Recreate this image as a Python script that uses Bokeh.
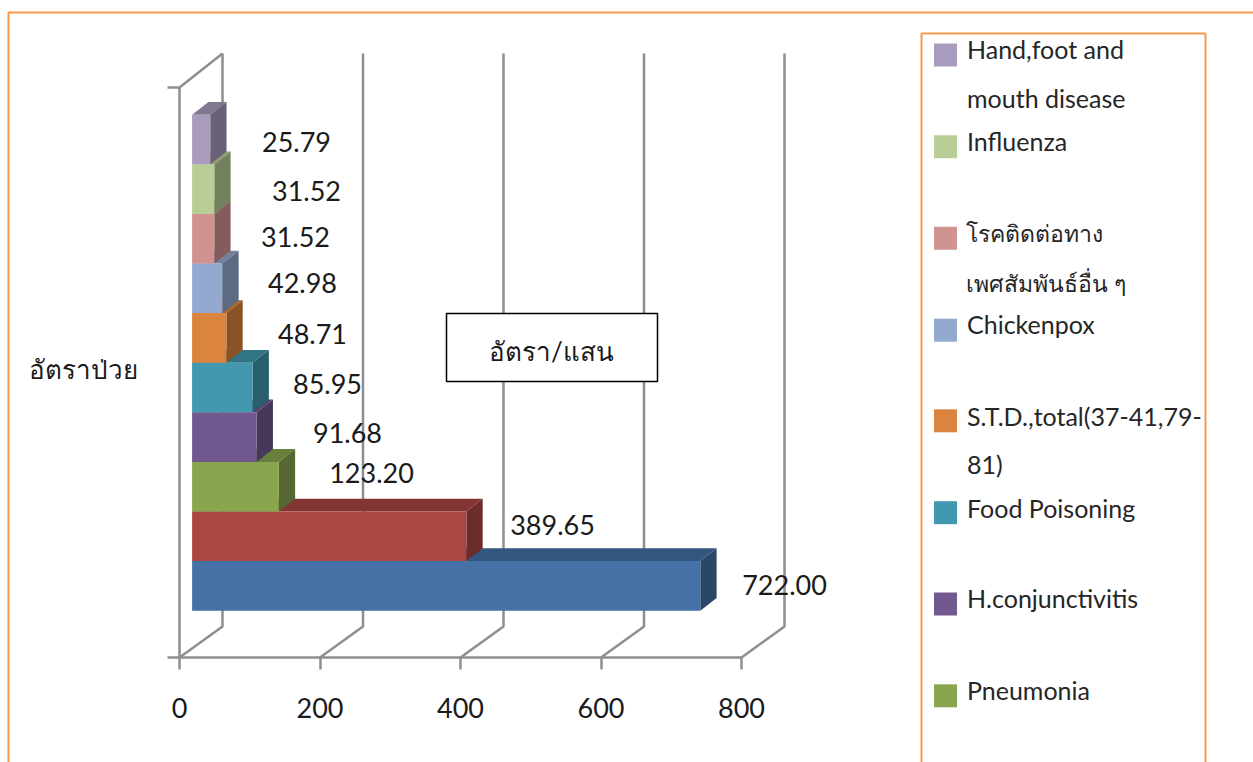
from bokeh.plotting import figure
from bokeh.models import Range1d, LinearAxis, FixedTicker
from bokeh.core.properties import value
from bokeh.embed import file_html
from bokeh.resources import INLINE

# ---- data ----
values = [722.00, 389.65, 123.20, 91.68, 85.95, 48.71, 42.98, 31.52, 31.52, 25.79]
value_labels = ["722.00", "389.65", "123.20", "91.68", "85.95", "48.71", "42.98", "31.52", "31.52", "25.79"]
bar_colors = ["#4471A6", "#AA4643", "#89A54E", "#71588F", "#4198AF",
              "#DB843D", "#93A9CF", "#D19392", "#B9CD96", "#A99BBD"]
x_ticks = [0, 200, 400, 600, 800]
category = "อัตราป่วย"
box_text = "อัตรา/แสน"
legend_colors = ["#A99BBD", "#B9CD96", "#D19392", "#93A9CF", "#DB843D", "#4198AF", "#71588F", "#89A54E"]
legend_latin = ["Hand,foot and", "mouth disease", "Influenza",
                "Chickenpox", "S.T.D.,total(37-41,79-", "81)", "Food Poisoning", "H.conjunctivitis", "Pneumonia"]
legend_thai = ["โรคติดต่อทาง", "เพศสัมพันธ์อื่น ๆ"]

# ---- layout (page pixels) ----
W, H, M = 1253, 762, 0
AX_X0, AX_Y0 = 179.0, 657.0
KX = 562.0 / 800.0      # px per value
KY = 49.6               # px per band
px = lambda x: (x - AX_X0) / KX
py = lambda y: (AX_Y0 - y) / KY
dpx = lambda d: d / KX
dpy = lambda d: d / KY

BAR_X0 = px(191.6)
BAR_Y0 = py(610.2)
BAR_STRETCH = 1.002
BAR_DX, BAR_DY = dpx(16.3), dpy(12.8)
WALL_DX, FLOOR_DY, TOP_Y = dpx(43), dpy(31), py(87)
WALL_TOP = py(53)
label_xy = [(784, 584), (552, 524.5), (371, 472.5), (347, 432.5), (327, 383.5),
            (312, 333.5), (302, 282.5), (295, 236.5), (306, 190.5), (296, 141.5)]
legend_rows = [54.5, 146.3, 237.7, 329.7, 420.3, 512.2, 603.5, 695.3]
legend_latin_y = [48.5, 97.5, 140.5, 323.5, 415.5, 463.5, 507.5, 597.5, 689.5]
legend_thai_y = [232, 282]
GREY = "#8E8E8E"
ORANGE = "#F79A4E"
FONT = "Lato"


def shade(c, f):
    return "#" + "".join(f"{int(int(c[i:i+2], 16) * f):02X}" for i in (1, 3, 5))


p = figure(width=W, height=H, output_backend="svg", toolbar_location=None,
           x_axis_type=None, y_axis_type=None, min_border=0,
           x_range=Range1d(px(M), px(M + W)), y_range=Range1d(py(M + H), py(M)))
p.outline_line_color = None
p.grid.visible = False

# outer frame and legend box
p.line([px(8), px(8), px(1253)], [py(762), py(12), py(12)], line_color=ORANGE, line_width=2)
p.line([px(921), px(921), px(1205), px(1205)], [py(762), py(33), py(33), py(762)], line_color=ORANGE, line_width=2)

# walls
for t in x_ticks:
    xb = t + WALL_DX
    p.line([t, xb, xb], [0, FLOOR_DY, WALL_TOP], line_color=GREY, line_width=2.5)
p.line([0, WALL_DX], [TOP_Y, WALL_TOP], line_color=GREY, line_width=2.5)

# 3-D bars
for i, (v, c) in enumerate(zip(values, bar_colors)):
    x0 = BAR_X0
    x1 = BAR_X0 + v * BAR_STRETCH
    y0 = BAR_Y0 + i
    y1 = y0 + 1
    p.patch([x0, x1, x1 + BAR_DX, x0 + BAR_DX], [y1, y1, y1 + BAR_DY, y1 + BAR_DY],
            fill_color=shade(c, 0.77), line_color=None)
    p.patch([x1, x1 + BAR_DX, x1 + BAR_DX, x1], [y0, y0 + BAR_DY, y1 + BAR_DY, y1],
            fill_color=shade(c, 0.63), line_color=None)
    p.quad(left=x0, right=x1, bottom=y0, top=y1, fill_color=c, line_color=None)

# data labels
p.text(x=[px(a) for a, _ in label_xy], y=[py(b) for _, b in label_xy], text=value_labels,
       text_font=value(FONT), text_font_size="27px", text_color="#1A1A1A",
       text_align="center", text_baseline="middle")

# text box
p.quad(left=px(446), right=px(657), bottom=py(381), top=py(313), fill_color="white",
       line_color="black", line_width=1.5)
p.text(x=[px(551)], y=[py(350.5)], text=[box_text], text_font=value(FONT), text_font_size="26px",
       text_color="#1A1A1A", text_align="center", text_baseline="middle")

# legend
p.scatter(x=[px(945)] * len(legend_rows), y=[py(r) for r in legend_rows], marker="square", size=23,
          fill_color=legend_colors, line_color=None)
p.text(x=[px(966.5)] * len(legend_latin), y=[py(r) for r in legend_latin_y], text=legend_latin,
       text_font=value(FONT), text_font_size="25px", text_color="#262626",
       text_align="left", text_baseline="middle")
p.text(x=[px(965.5)] * len(legend_thai), y=[py(r) for r in legend_thai_y], text=legend_thai,
       text_font=value(FONT), text_font_size="23px", text_color="#262626",
       text_align="left", text_baseline="middle")

# real axes, pinned at the chart's corner
xa = LinearAxis(fixed_location=0, bounds=(0, 800), ticker=FixedTicker(ticks=x_ticks))
xa.axis_line_color = GREY
xa.axis_line_width = 2.5
xa.major_tick_line_color = GREY
xa.major_tick_line_width = 2.5
xa.major_tick_in = 0
xa.major_tick_out = 12
xa.minor_tick_line_color = None
xa.major_label_text_font = FONT
xa.major_label_text_font_size = "27px"
xa.major_label_text_color = "#1A1A1A"
xa.major_label_standoff = 28
p.add_layout(xa, "below")

ya = LinearAxis(fixed_location=0, bounds=(0, TOP_Y), ticker=FixedTicker(ticks=[0, TOP_Y]),
                major_label_overrides={0: "", TOP_Y: ""})
ya.axis_line_color = GREY
ya.axis_line_width = 2.5
ya.major_tick_line_color = GREY
ya.major_tick_line_width = 2.5
ya.major_tick_in = 0
ya.major_tick_out = 12
ya.minor_tick_line_color = None
p.add_layout(ya, "left")

cat_mid = py(368)
ca = LinearAxis(fixed_location=0, ticker=FixedTicker(ticks=[cat_mid]),
                major_label_overrides={cat_mid: category})
ca.axis_line_color = None
ca.major_tick_line_color = None
ca.minor_tick_line_color = None
ca.major_label_standoff = 36
ca.major_label_text_font = FONT
ca.major_label_text_font_size = "26px"
ca.major_label_text_color = "#1A1A1A"
p.add_layout(ca, "left")

open("out.html", "w").write(file_html(p, INLINE))
